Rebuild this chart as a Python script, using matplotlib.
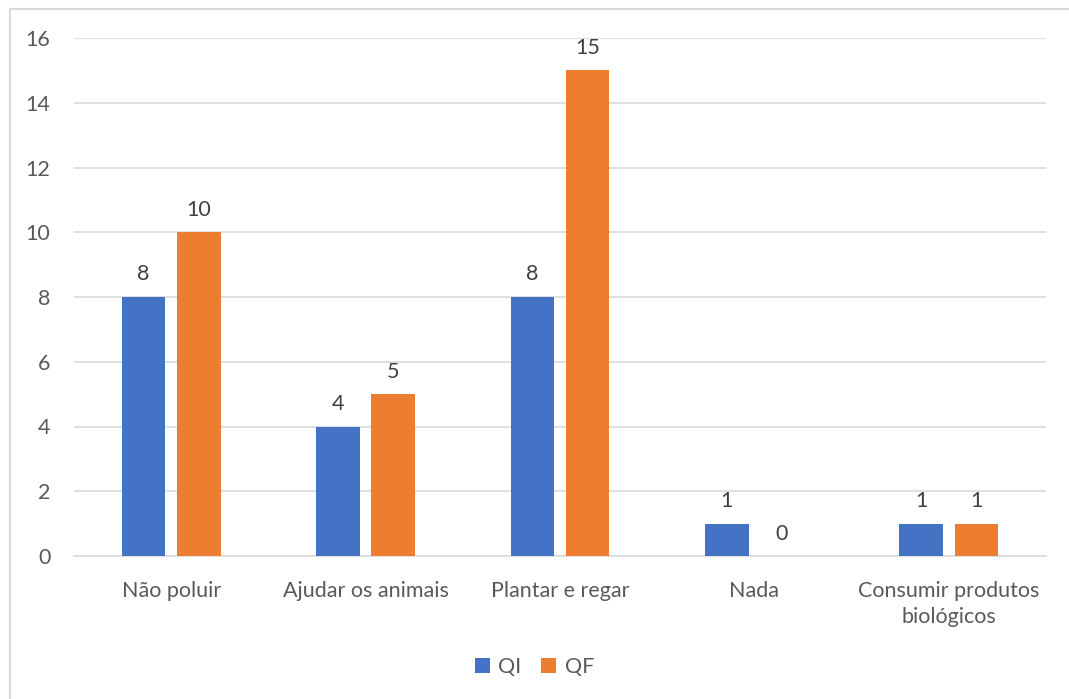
import numpy as np
import matplotlib
matplotlib.use("Agg")
import matplotlib.pyplot as plt
from matplotlib.lines import Line2D

categories = ["Não poluir", "Ajudar os animais", "Plantar e regar", "Nada",
              "Consumir produtos\nbiológicos"]
qi = [8, 4, 8, 1, 1]
qf = [10, 5, 15, 0, 1]
series_names = ["QI", "QF"]

blue = "#4472C4"
orange = "#ED7D31"
text_col = "#595959"
grid_col = "#D9D9D9"

plt.rcParams["font.family"] = ["Lato", "DejaVu Sans"]
fs = 15.5

fig = plt.figure(figsize=(10.69, 6.99), dpi=100)
ax = fig.add_axes([74 / 1069, 1 - 556 / 699, 972 / 1069, (556 - 38) / 699])

x = np.arange(len(categories))
w = 0.225
off = 0.142
b1 = ax.bar(x - off, qi, w, color=blue, label=series_names[0], zorder=3)
b2 = ax.bar(x + off, qf, w, color=orange, label=series_names[1], zorder=3)

for bars, vals in ((b1, qi), (b2, qf)):
    for rect, v in zip(bars, vals):
        ax.annotate(str(v), (rect.get_x() + rect.get_width() / 2, v),
                    xytext=(0, 9), textcoords="offset points",
                    ha="center", va="bottom", fontsize=fs, color="#404040")

ax.set_xlim(-0.5, len(categories) - 0.5)
ax.set_ylim(0, 16)
ax.set_yticks(range(0, 17, 2))
ax.set_xticks(x)
ax.set_xticklabels(categories, fontsize=fs, color=text_col, linespacing=1.4)
ax.tick_params(axis="y", labelsize=fs, labelcolor=text_col, length=0, pad=17)
ax.tick_params(axis="x", length=0, pad=18)
ax.grid(axis="y", color=grid_col, linewidth=1.2, zorder=0)
for s in ["top", "right", "left"]:
    ax.spines[s].set_visible(False)
ax.spines["bottom"].set_color(grid_col)
ax.spines["bottom"].set_linewidth(1.2)

ax.legend(loc="center", bbox_to_anchor=(0.5, 1 - 667 / 699), bbox_transform=fig.transFigure,
          ncol=2, frameon=False, fontsize=fs, labelcolor=text_col,
          handlelength=0.7, handleheight=0.7, handletextpad=0.4, columnspacing=0.9)

# outer chart border (only left/top visible in the reference)
fig.add_artist(Line2D([10 / 1069, 10 / 1069], [0, 1 - 9 / 699], transform=fig.transFigure,
                      color=grid_col, linewidth=1.5))
fig.add_artist(Line2D([10 / 1069, 1], [1 - 9 / 699, 1 - 9 / 699], transform=fig.transFigure,
                      color=grid_col, linewidth=1.5))

fig.savefig("out.png", dpi=100)
